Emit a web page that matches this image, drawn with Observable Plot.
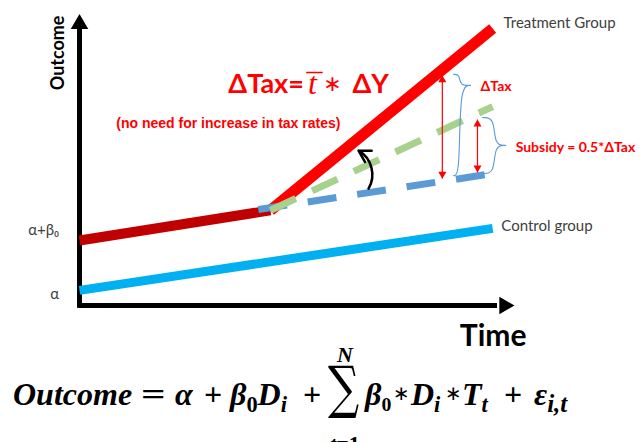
<!DOCTYPE html>
<html><head><meta charset="utf-8">
<script src="https://cdn.jsdelivr.net/npm/d3@7"></script>
<script src="https://cdn.jsdelivr.net/npm/@observablehq/plot@0.6"></script>
<style>
html,body{margin:0;padding:0;background:#fff;}
#wrap{position:relative;width:641px;height:442px;overflow:hidden;background:#fff;}
#eq{position:absolute;left:0;top:0;width:641px;height:442px;pointer-events:none;font-family:"Liberation Serif";font-weight:bold;font-style:italic;color:#000;}
#eq .p{position:absolute;white-space:nowrap;line-height:1;font-size:32px;}
#eq .up{font-style:normal;}
#eq .wide{transform:scaleX(1.35);transform-origin:0 0;}
#eq sub{font-size:0.7em;vertical-align:-0.3em;line-height:0;}
#eq .small{font-size:22px;}
#eq .ast{font-family:"DejaVu Sans";font-style:normal;font-weight:normal;font-size:20px;}
#eq .sig{font-family:"DejaVu Serif";font-style:normal;font-weight:normal;font-size:46px;transform:scale(0.95,1.25);transform-origin:0 0;}
</style></head>
<body>
<div id="wrap">
  <div id="chart"></div>
  <div id="eq">
    <span class="p" style="left:13px;top:378px">Outcome</span>
    <span class="p up wide" style="left:141px;top:378px">=</span>
    <span class="p" style="left:175px;top:378px">α</span>
    <span class="p up" style="left:204px;top:378px">+</span>
    <span class="p" style="left:230px;top:378px">β<sub class="up">0</sub>D<sub>i</sub></span>
    <span class="p up" style="left:303px;top:378px">+</span>
    <span class="p small" style="left:337px;top:344px">N</span>
    <span class="p sig" style="left:328px;top:358px">∑</span>
    <span class="p small" style="left:330px;top:433px">t<span class="up">=1</span></span>
    <span class="p" style="left:365px;top:378px">β<sub class="up" style="font-size:0.62em">0</sub></span>
    <span class="p ast" style="left:393px;top:383px">∗</span>
    <span class="p" style="left:411px;top:378px">D<sub>i</sub></span>
    <span class="p ast" style="left:445px;top:383px">∗</span>
    <span class="p" style="left:462px;top:378px">T<sub>t</sub></span>
    <span class="p up" style="left:504px;top:378px">+</span>
    <span class="p" style="left:534px;top:378px">ε<sub style="font-size:0.78em">i,t</sub></span>
  </div>
</div>
<script>
// ---- data (time units 0–10, outcome units 0–10) ----
const controlGroup = [{t: 0, y: 0.52}, {t: 9.52, y: 2.66}];
const treatmentPre = [{t: 0, y: 2.24}, {t: 4.40, y: 3.28}];
const treatmentPost = [{t: 4.40, y: 3.28}, {t: 9.52, y: 9.55}];
const counterfactualGreen = [{t: 4.40, y: 3.28}, {t: 9.52, y: 6.86}];
const counterfactualBlue = [{t: 4.12, y: 3.31}, {t: 9.52, y: 4.55}];
const gapArrows = [{t: 8.36, from: 7.93, to: 4.38}, {t: 9.17, from: 6.41, to: 4.59}];
const braces = [
  {id: "tax", x0: 8.62, spine: 8.76, tipX: 9.01, top: 7.97, tip: 7.59, bottom: 4.48},
  {id: "subsidy", x0: 9.29, spine: 9.56, tipX: 9.82, top: 6.48, tip: 5.52, bottom: 4.55}
];
const rotationArrow = [{t1: 6.66, y1: 4.03, t2: 6.43, y2: 5.34}];
const axisOrigin = {t: 0, y: 0};
const axisEnd = {t: 10.02, y: 10.05};
const groupLabels = [
  {label: "Treatment Group", t: 9.77, y: 9.75},
  {label: "Control group", t: 9.72, y: 2.75}
];
const yTickLabels = [{label: "α+β₀", y: 2.59}, {label: "α", y: 0.38}];
const titleParts = [
  {label: "ΔTax=", t: 3.43, y: 7.64},
  {label: "ΔY", t: 6.29, y: 7.64}
];
const titleStar = [{label: "∗", t: 5.83, y: 7.64}];
const titleVar = [{label: "t", bar: "¯", t: 5.37, y: 7.64}];
const subtitle = [{label: "(no need for increase in tax rates)", t: 3.43, y: 6.29}];
const gapLabels = [
  {label: "ΔTax", t: 9.24, y: 7.56},
  {label: "Subsidy = 0.5*ΔTax", t: 10.05, y: 5.45}
];
const axisTitles = [
  {label: "Outcome", t: -0.49, y: 8.71, rotate: -90},
  {label: "Time", t: 9.53, y: -1.05, rotate: 0}
];

// brace outlines built from the brace spans
const bracePoints = braces.flatMap(b => [
  [b.x0, b.top], [b.spine, b.top], [b.spine, b.tip], [b.tipX, b.tip], [b.tipX, b.tip], [b.tipX, b.tip],
  [b.spine, b.tip], [b.spine, b.bottom], [b.x0, b.bottom]
].map(([t, y]) => ({id: b.id, t, y})));

const axisV = [{t: axisOrigin.t, y: axisOrigin.y - 0.06}, {t: axisOrigin.t, y: axisEnd.y - 0.4}];
const axisH = [{t: axisOrigin.t - 0.05, y: axisOrigin.y}, {t: axisEnd.t - 0.4, y: axisOrigin.y}];

const lato = "Lato, 'Open Sans', sans-serif";

const chart = Plot.plot({
  width: 641,
  height: 345,
  marginLeft: 79,
  marginRight: 128,
  marginTop: 15,
  marginBottom: 40,
  x: {domain: [0, 10], axis: null},
  y: {domain: [0, 10], axis: null},
  style: {background: "#fff", overflow: "visible"},
  marks: [
    // axes
    Plot.line(axisV, {x: "t", y: "y", stroke: "#000", strokeWidth: 5, strokeLinecap: "butt"}),
    Plot.line(axisH, {x: "t", y: "y", stroke: "#000", strokeWidth: 5, strokeLinecap: "butt"}),
    Plot.dot([axisEnd], {x: d => axisOrigin.t, y: "y", symbol: "triangle", r: 6.5, fill: "#000", stroke: null, dy: 10}),
    Plot.dot([axisEnd], {x: "t", y: d => axisOrigin.y, symbol: "triangle", r: 6.5, fill: "#000", stroke: null, dx: -10, rotate: 90}),
    // series
    Plot.line(controlGroup, {x: "t", y: "y", stroke: "#00B0F0", strokeWidth: 9, strokeLinecap: "butt"}),
    Plot.line(treatmentPre, {x: "t", y: "y", stroke: "#C00000", strokeWidth: 10, strokeLinecap: "butt"}),
    Plot.line(treatmentPost, {x: "t", y: "y", stroke: "#FF0000", strokeWidth: 11, strokeLinecap: "butt"}),
    Plot.line(counterfactualBlue, {x: "t", y: "y", stroke: "#5B9BD5", strokeWidth: 7, strokeLinecap: "butt", strokeDasharray: "29,21"}),
    Plot.line(counterfactualGreen, {x: "t", y: "y", stroke: "#A9D18E", strokeWidth: 7, strokeLinecap: "butt", strokeDasharray: "28,18"}),
    // gap arrows
    Plot.link(gapArrows, {x1: "t", x2: "t", y1: "from", y2: "to", stroke: "#FF0000", strokeWidth: 1.2}),
    Plot.dot(gapArrows, {x: "t", y: "from", symbol: "triangle", r: 3, fill: "#FF0000", stroke: null, dy: 4.5}),
    Plot.dot(gapArrows, {x: "t", y: "to", symbol: "triangle", r: 3, fill: "#FF0000", stroke: null, dy: -4.5, rotate: 180}),
    // braces
    Plot.line(bracePoints, {x: "t", y: "y", z: "id", curve: "basis", stroke: "#5B9BD5", strokeWidth: 1.1}),
    // rotation arrow
    Plot.arrow(rotationArrow, {x1: "t1", y1: "y1", x2: "t2", y2: "y2", bend: -45, stroke: "#000", strokeWidth: 2.5, headLength: 10}),
    // labels
    Plot.text(groupLabels, {x: "t", y: "y", text: "label", textAnchor: "start", fontSize: 15, fill: "#404040", fontFamily: lato}),
    Plot.text(yTickLabels, {x: d => -0.47, y: "y", text: "label", textAnchor: "end", fontSize: 15, fill: "#404040", fontFamily: lato}),
    Plot.text(titleParts, {x: "t", y: "y", text: "label", textAnchor: "start", fontSize: 27, fontWeight: "bold", fill: "#FF0000", fontFamily: lato}),
    Plot.text(titleStar, {x: "t", y: "y", text: "label", textAnchor: "middle", fontSize: 22, fill: "#FF0000", fontFamily: "'DejaVu Sans', sans-serif"}),
    Plot.text(titleVar, {x: "t", y: "y", text: "label", textAnchor: "middle", fontSize: 32, fontStyle: "italic", fill: "#FF0000", fontFamily: "'Liberation Serif', serif"}),
    Plot.text(titleVar, {x: "t", y: "y", text: "bar", textAnchor: "middle", fontSize: 32, fill: "#FF0000", fontFamily: "'Liberation Serif', serif", dx: 2, dy: 2}),
    Plot.text(subtitle, {x: "t", y: "y", text: "label", textAnchor: "middle", fontSize: 14, fontWeight: "bold", fill: "#FF0000", fontFamily: "'Liberation Sans', Arial, sans-serif"}),
    Plot.text(gapLabels, {x: "t", y: "y", text: "label", textAnchor: "start", fontSize: 14, fontWeight: "bold", fill: "#FF0000", fontFamily: lato}),
    Plot.text(axisTitles.filter(d => d.rotate), {x: "t", y: "y", text: "label", rotate: -90, fontSize: 18, fontWeight: "bold", fill: "#000", fontFamily: lato}),
    Plot.text(axisTitles.filter(d => !d.rotate), {x: "t", y: "y", text: "label", fontSize: 30, fontWeight: "bold", fill: "#000", fontFamily: lato})
  ]
});
document.getElementById("chart").append(chart);
</script>
</body></html>
